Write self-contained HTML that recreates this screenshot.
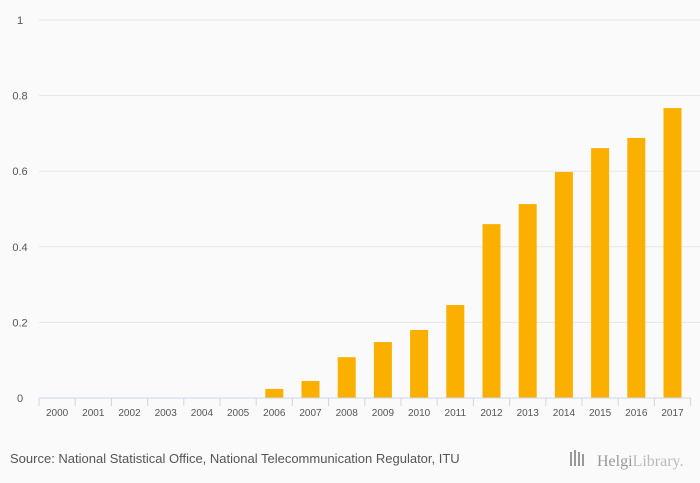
<!DOCTYPE html>
<html><head><meta charset="utf-8"><style>
body{margin:0;background:#fafafa;font-family:"Liberation Sans",sans-serif;}
svg{display:block}
</style></head><body>
<svg width="700" height="483" id="c">
<rect width="700" height="483" fill="#fafafa"/>
<text x="10" y="463" font-size="13" fill="#555">Source: National Statistical Office, National Telecommunication Regulator, ITU</text>
<g>
<rect x="570" y="452" width="2" height="14" fill="#999"/><rect x="574" y="450" width="2" height="16" fill="#999"/><rect x="578" y="452" width="2" height="14" fill="#999"/><rect x="582" y="454" width="2" height="12" fill="#999"/>
<text x="597" y="466" font-size="16" fill="#999" font-family="Liberation Serif,serif">Helgi<tspan fill="#bbb">Library.</tspan></text>
</g>
</svg>
<script>
const categories=["2000","2001","2002","2003","2004","2005","2006","2007","2008","2009","2010","2011","2012","2013","2014","2015","2016","2017"];
const values=[0,0,0,0,0,0,0.024,0.045,0.108,0.148,0.18,0.246,0.46,0.513,0.598,0.661,0.688,0.767];
const yTicks=[0,0.2,0.4,0.6,0.8,1];
const yTickLabels=["0","0.2","0.4","0.6","0.8","1"];
const svg=document.getElementById('c');const NS="http://www.w3.org/2000/svg";
const x0=39,step=36.2,yZero=398,yTop=20;
const y=v=>yZero-(yZero-yTop)*v;
const xc=i=>x0+step*(i+0.5);
function mk(t,a){const e=document.createElementNS(NS,t);for(const k in a)e.setAttribute(k,a[k]);svg.appendChild(e);return e;}
yTicks.forEach((t,i)=>{
 if(t>0){const g=mk('line',{x1:x0,x2:700,y1:y(t),y2:y(t),stroke:'#e6e6e6'});
 
 }
 const l=mk('text',{x:20,y:y(t)+4,'font-size':11,fill:'#555','text-anchor':'middle'});l.textContent=yTickLabels[i];
 
 
});
values.forEach((v,i)=>{
 const b=mk('rect',{x:xc(i)-9,y:y(v),width:18,height:yZero-y(v),fill:'#fbb000'});
 
 
});
const ax=mk('line',{x1:x0,x2:x0+step*18,y1:yZero,y2:yZero,stroke:'#ccd6eb'});


categories.forEach((c,i)=>{
 const tk=mk('line',{x1:x0+step*i,x2:x0+step*i,y1:yZero,y2:yZero+8,stroke:'#ccd6eb'});
 
 
 const l=mk('text',{x:xc(i),y:416,'font-size':10,fill:'#555','text-anchor':'middle'});l.textContent=c;
 
 
});
const tk=mk('line',{x1:x0+step*18,x2:x0+step*18,y1:yZero,y2:yZero+8,stroke:'#ccd6eb'});


</script>
</body></html>
